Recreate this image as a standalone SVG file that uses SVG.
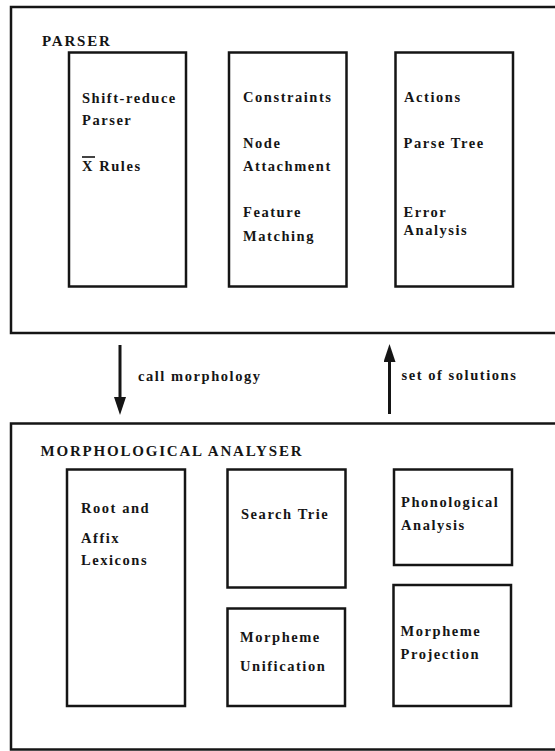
<svg xmlns="http://www.w3.org/2000/svg" width="555" height="751" viewBox="0 0 555 751">
  <style>
    .frame { fill: none; stroke: #151515; stroke-width: 2.5; }
    .box { fill: none; stroke: #151515; stroke-width: 2.5; }
    .title { font-family: "Liberation Serif", "Times New Roman", serif; font-weight: bold; font-size: 15px; letter-spacing: 1.8px; fill: #151515; }
    .lbl { font-family: "Liberation Serif", "Times New Roman", serif; font-weight: bold; font-size: 14.5px; letter-spacing: 1.55px; fill: #151515; }
    .conn { stroke: #151515; stroke-width: 3; fill: none; }
  </style>
  <defs>
    <marker id="head" viewBox="0 0 18 12" markerWidth="18" markerHeight="12" refX="8" refY="6" orient="auto" markerUnits="userSpaceOnUse">
      <path d="M0,0 L18,6 L0,12 z" fill="#151515"/>
    </marker>
  </defs>
  <rect width="555" height="751" fill="#ffffff"/>

  <g id="parser">
    <rect class="frame" x="11" y="7" width="560" height="326"/>
    <text class="title" x="42" y="46">PARSER</text>
  </g>

  <g id="shift-reduce">
    <rect class="box" x="69" y="52.5" width="117" height="234"/>
    <text class="lbl" x="82" y="103">Shift-reduce</text>
    <text class="lbl" x="82" y="125">Parser</text>
    <text class="lbl" x="82" y="171">X Rules</text>
    <line x1="82" y1="157" x2="95" y2="157" stroke="#151515" stroke-width="1.6"/>
  </g>

  <g id="constraints">
    <rect class="box" x="229" y="52.5" width="117.5" height="234"/>
    <text class="lbl" x="243" y="102">Constraints</text>
    <text class="lbl" x="243" y="148">Node</text>
    <text class="lbl" x="243" y="171">Attachment</text>
    <text class="lbl" x="243" y="217">Feature</text>
    <text class="lbl" x="243" y="241">Matching</text>
  </g>

  <g id="actions">
    <rect class="box" x="395.5" y="52.5" width="117.5" height="234"/>
    <text class="lbl" x="404" y="102">Actions</text>
    <text class="lbl" x="403.5" y="148">Parse Tree</text>
    <text class="lbl" x="403.5" y="217">Error</text>
    <text class="lbl" x="403.5" y="234.5">Analysis</text>
  </g>

  <g id="connectors">
    <line class="conn" x1="120" y1="345" x2="120" y2="405" marker-end="url(#head)"/>
    <text class="lbl" x="138" y="380.5">call morphology</text>
    <line class="conn" x1="389.5" y1="414" x2="389.5" y2="354" marker-end="url(#head)"/>
    <text class="lbl" x="401.5" y="380">set of solutions</text>
  </g>

  <g id="morphological-analyser">
    <rect class="frame" x="11" y="423.5" width="560" height="326"/>
    <text class="title" x="40.5" y="455.5">MORPHOLOGICAL ANALYSER</text>
  </g>

  <g id="lexicons">
    <rect class="box" x="67" y="469.5" width="118" height="236.5"/>
    <text class="lbl" x="81" y="513">Root and</text>
    <text class="lbl" x="81" y="542.5">Affix</text>
    <text class="lbl" x="81" y="565">Lexicons</text>
  </g>

  <g id="search-trie">
    <rect class="box" x="227.5" y="469.5" width="118" height="118"/>
    <text class="lbl" x="241" y="518.5">Search Trie</text>
  </g>

  <g id="morpheme-unification">
    <rect class="box" x="227.5" y="608.5" width="117.5" height="97.5"/>
    <text class="lbl" x="240" y="642">Morpheme</text>
    <text class="lbl" x="240" y="670.5">Unification</text>
  </g>

  <g id="phonological-analysis">
    <rect class="box" x="394" y="469.5" width="118" height="95.5"/>
    <text class="lbl" x="401" y="507">Phonological</text>
    <text class="lbl" x="401" y="530">Analysis</text>
  </g>

  <g id="morpheme-projection">
    <rect class="box" x="393.5" y="585" width="117.5" height="121"/>
    <text class="lbl" x="400.5" y="636">Morpheme</text>
    <text class="lbl" x="400.5" y="658.5">Projection</text>
  </g>
</svg>
